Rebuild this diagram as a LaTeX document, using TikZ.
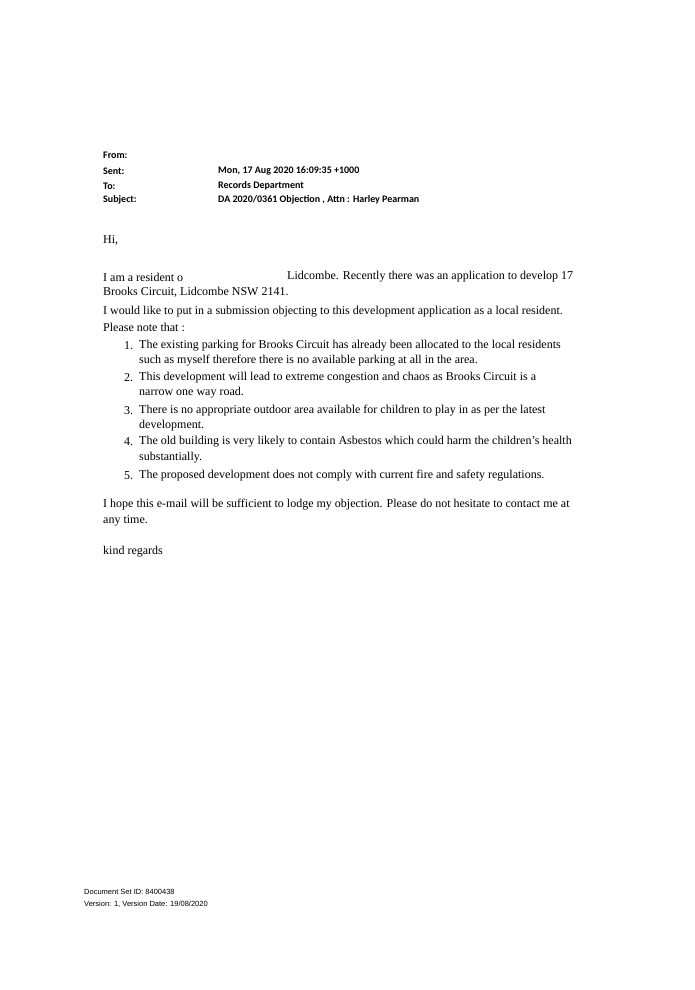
\documentclass[tikz,border=0pt]{standalone}
\usepackage{fontspec}
\setmainfont{Liberation Serif}
\newfontfamily\hdr{Carlito}
\newfontfamily\foot{Liberation Sans}
\begin{document}
\begin{tikzpicture}[x=1pt,y=-1pt,
  hd/.style={anchor=west,inner sep=0pt,font=\hdr\bfseries\fontsize{10}{12}\selectfont},
  bd/.style={anchor=west,inner sep=0pt,font=\fontsize{12}{14}\selectfont},
  ft/.style={anchor=west,inner sep=0pt,font=\foot\fontsize{7.5}{9}\selectfont}]
\useasboundingbox[fill=white] (0,0) rectangle (694,990);
\node[hd] (f) at (103,155) {From:};
\node[hd] (s) at (103,171) {Sent:};
\node[hd] (t) at (103,186) {To:};
\node[hd] (sb) at (103,200) {Subject:};
\node[hd] (sv) at (218,171) {Mon, 17 Aug 2020 16:09:35 +1000};
\node[hd] (tv) at (218,186) {Records Department};
\node[hd] (sbv) at (218,200) {DA 2020/0361 Objection , Attn : Harley Pearman};
\node[bd] (hi) at (103,240) {Hi,};
\node[bd] (p1a) at (103,277) {I am a resident o};
\node[bd] (p1b) at (287,277) {Lidcombe. Recently there was an application to develop 17};
\node[bd] (p1c) at (103,292) {Brooks Circuit, Lidcombe NSW 2141.};
\node[bd] (p2) at (103,312) {I would like to put in a submission objecting to this development application as a local resident.};
\node[bd] (p3) at (103,327) {Please note that :};
\foreach \n/\y in {1/346,2/378,3/411,4/442,5/476}{\node[bd] (n\n) at (124,\y) {\n.};}
\node[bd] (i1a) at (139,346) {The existing parking for Brooks Circuit has already been allocated to the local residents};
\node[bd] (i1b) at (139,361) {such as myself therefore there is no available parking at all in the area.};
\node[bd] (i2a) at (139,378) {This development will lead to extreme congestion and chaos as Brooks Circuit is a};
\node[bd] (i2b) at (139,393) {narrow one way road.};
\node[bd] (i3a) at (139,411) {There is no appropriate outdoor area available for children to play in as per the latest};
\node[bd] (i3b) at (139,426) {development.};
\node[bd] (i4a) at (139,442) {The old building is very likely to contain Asbestos which could harm the children's health};
\node[bd] (i4b) at (139,458) {substantially.};
\node[bd] (i5) at (139,476) {The proposed development does not comply with current fire and safety regulations.};
\node[bd] (h1) at (103,505) {I hope this e-mail will be sufficient to lodge my objection. Please do not hesitate to contact me at};
\node[bd] (h2) at (103,521) {any time.};
\node[bd] (kr) at (103,552) {kind regards};
\node[ft] (d1) at (84,892) {Document Set ID: 8400438};
\node[ft] (d2) at (84,904) {Version: 1, Version Date: 19/08/2020};
\end{tikzpicture}
\end{document}
